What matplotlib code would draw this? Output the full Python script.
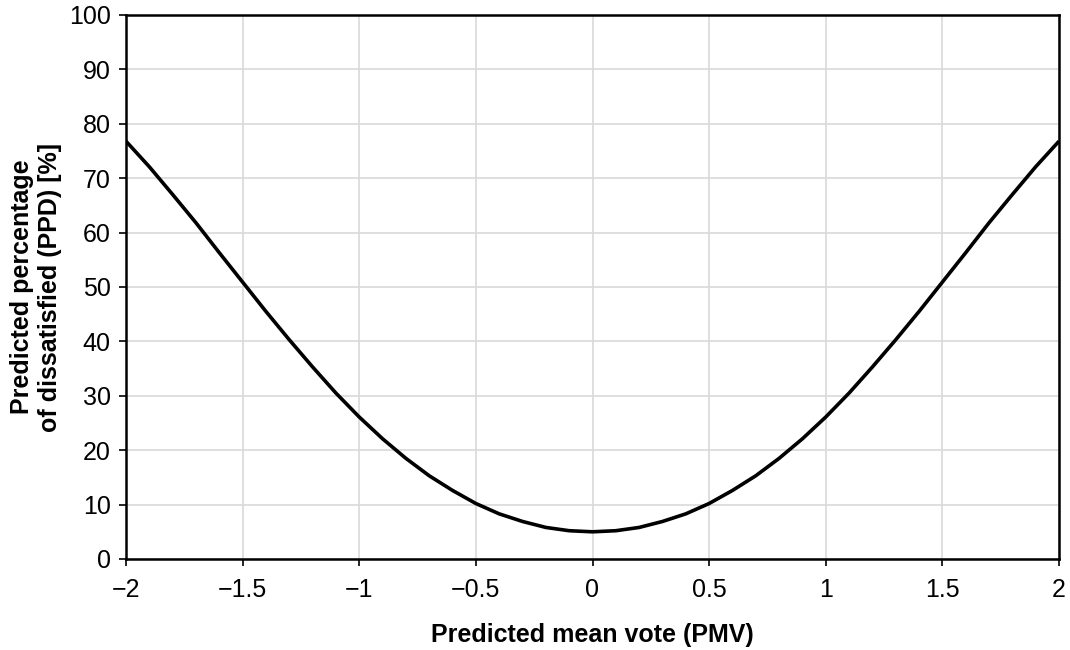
import matplotlib.pyplot as plt

plt.rcParams['font.family'] = ['Liberation Sans', 'DejaVu Sans']

# PMV vs PPD values
pmv = [-2.0, -1.9, -1.8, -1.7, -1.6, -1.5, -1.4, -1.3, -1.2, -1.1, -1.0,
       -0.9, -0.8, -0.7, -0.6, -0.5, -0.4, -0.3, -0.2, -0.1, 0.0,
       0.1, 0.2, 0.3, 0.4, 0.5, 0.6, 0.7, 0.8, 0.9, 1.0,
       1.1, 1.2, 1.3, 1.4, 1.5, 1.6, 1.7, 1.8, 1.9, 2.0]
ppd = [76.8, 72.1, 67.0, 61.8, 56.3, 50.9, 45.5, 40.3, 35.3, 30.5, 26.1,
       22.1, 18.5, 15.3, 12.6, 10.2, 8.3, 6.9, 5.8, 5.2, 5.0,
       5.2, 5.8, 6.9, 8.3, 10.2, 12.6, 15.3, 18.5, 22.1, 26.1,
       30.5, 35.3, 40.3, 45.5, 50.9, 56.3, 61.8, 67.0, 72.1, 76.8]

x_ticks = [-2, -1.5, -1, -0.5, 0, 0.5, 1, 1.5, 2]
x_labels = ['\u22122', '\u22121.5', '\u22121', '\u22120.5', '0', '0.5', '1', '1.5', '2']
y_ticks = [0, 10, 20, 30, 40, 50, 60, 70, 80, 90, 100]

fig = plt.figure(figsize=(10.7, 6.5), dpi=100)
ax = fig.add_axes([126 / 1070, 1 - 559 / 650, (1059 - 126) / 1070, (559 - 15) / 650])

ax.plot(pmv, ppd, color='black', linewidth=2.6, solid_capstyle='butt')

ax.set_xlim(-2, 2)
ax.set_ylim(0, 100)
ax.set_xticks(x_ticks)
ax.set_xticklabels(x_labels)
ax.set_yticks(y_ticks)
ax.tick_params(direction='out', length=5, width=1.2, labelsize=18, colors='black')
ax.tick_params(axis='x', pad=9)
ax.tick_params(axis='y', pad=6)
ax.grid(True, color='#d9d9d9', linewidth=1.2)
ax.set_axisbelow(True)
for s in ax.spines.values():
    s.set_linewidth(1.8)
    s.set_color('black')

ax.set_xlabel('Predicted mean vote (PMV)', fontsize=18, fontweight='bold', labelpad=15)
ax.set_ylabel('Predicted percentage\nof dissatisfied (PPD) [%]', fontsize=18,
              fontweight='bold', labelpad=5, linespacing=1.2)

fig.savefig('out.png', dpi=100)
